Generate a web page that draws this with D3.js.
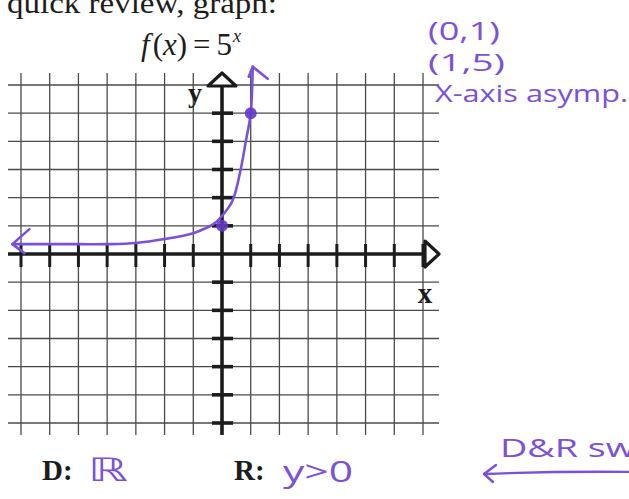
<!DOCTYPE html>
<html>
<head>
<meta charset="utf-8">
<script src="https://cdn.jsdelivr.net/npm/d3@7"></script>
<style>
  html, body { margin: 0; padding: 0; background: #fff; }
  svg { display: block; }
</style>
</head>
<body>
<div id="chart"></div>
<script>
// Grid positions (integer units on each axis)
const xGrid = [-7, -6, -5, -4, -3, -2, -1, 0, 1, 2, 3, 4, 5, 6, 7];
const yGrid = [-6, -5, -4, -3, -2, -1, 0, 1, 2, 3, 4, 5, 6];

// Sketched curve of f(x) = 5^x, as drawn on the grid
const curveX = [-7.3, -6, -5, -4, -3, -2, -1, -0.6, -0.3, 0, 0.37, 0.63, 0.83, 1, 1.07];
const curveY = [0.35, 0.35, 0.35, 0.35, 0.39, 0.53, 0.74, 0.9, 1.06, 1.35, 1.9, 2.9, 4.0, 5, 6.65];

// Marked points
const pointX = [0, 1];
const pointY = [1, 5];

// Text on the sheet
const heading = "quick review, graph:";
const notes = ["(0,1)", "(1,5)", "X-axis asymp."];
const domainText = "ℝ";
const rangeText = "y>0";
const sideNote = "D&R sw";

const W = 629, H = 499;
const ink = "#1c1c1c";
const gridInk = "#4a4a4a";
const pen = "#7b50dc";
const penDark = "#6438c8";
const serif = "'Liberation Serif', 'Times New Roman', serif";
const hand = "'Open Sans', 'Noto Sans', sans-serif";

const svg = d3.select("#chart").append("svg")
  .attr("width", W).attr("height", H)
  .style("background", "#fff");

const x = d3.scaleLinear().domain([-7, 7]).range([21, 423]);
const y = d3.scaleLinear().domain([-6, 6]).range([423, 85]);

// Grid lines overhang the outermost cells a little, like printed graph paper
const gx0 = x(-7) - 13, gx1 = x(7) + 16;
const gy0 = y(6) - 12, gy1 = y(-6) + 12;

const grid = svg.append("g");
grid.selectAll("line.h").data(yGrid.filter(d => d !== 0)).join("line")
  .attr("x1", gx0).attr("x2", gx1)
  .attr("y1", d => y(d)).attr("y2", d => y(d))
  .attr("stroke", gridInk).attr("stroke-width", 1.3);
grid.selectAll("line.v").data(xGrid.filter(d => d !== 0)).join("line")
  .attr("y1", gy0).attr("y2", gy1)
  .attr("x1", d => x(d)).attr("x2", d => x(d))
  .attr("stroke", gridInk).attr("stroke-width", 1.3);

// Axes
const axes = svg.append("g").attr("stroke", ink).attr("fill", "#fff")
  .attr("stroke-linejoin", "round").attr("stroke-linecap", "butt");
axes.append("line")
  .attr("x1", gx0).attr("x2", x(7) + 2)
  .attr("y1", y(0)).attr("y2", y(0)).attr("stroke-width", 3.6);
axes.append("line")
  .attr("x1", x(0)).attr("x2", x(0))
  .attr("y1", y(6)).attr("y2", gy1).attr("stroke-width", 3.6);

// x-axis ticks
axes.selectAll("line.xt").data(xGrid.filter(d => d !== 0)).join("line")
  .attr("x1", d => x(d)).attr("x2", d => x(d))
  .attr("y1", y(0) - 10).attr("y2", y(0) + 13).attr("stroke-width", 3);
// y-axis ticks
axes.selectAll("line.yt").data(yGrid.filter(d => d !== 0)).join("line")
  .attr("y1", d => y(d)).attr("y2", d => y(d))
  .attr("x1", x(0) - 10).attr("x2", x(0) + 11).attr("stroke-width", 3.6);

// Arrowheads on the positive ends
axes.append("path")
  .attr("d", `M${x(7) + 2},${y(0) - 13} L${x(7) + 16},${y(0)} L${x(7) + 2},${y(0) + 13} Z`)
  .attr("stroke-width", 3.2);
axes.append("path")
  .attr("d", `M${x(0) - 14},${y(6) + 1} L${x(0)},${y(6) - 12} L${x(0) + 14},${y(6) + 1} Z`)
  .attr("stroke-width", 3.2);

// Axis letters
svg.append("text").text("y")
  .attr("x", x(0) - 27).attr("y", 102).attr("text-anchor", "middle")
  .attr("font-family", serif).attr("font-weight", "bold").attr("font-size", 28).attr("fill", ink);
svg.append("text").text("x")
  .attr("x", x(7) + 2).attr("y", 303).attr("text-anchor", "middle")
  .attr("font-family", serif).attr("font-weight", "bold").attr("font-size", 29).attr("fill", ink);

// Heading and function
svg.append("text").text(heading)
  .attr("x", 7).attr("y", 13)
  .attr("font-family", serif).attr("font-size", 30).attr("fill", ink)
  .attr("textLength", 270).attr("lengthAdjust", "spacingAndGlyphs");

const fx = svg.append("text").attr("x", 141).attr("y", 55)
  .attr("font-family", serif).attr("font-size", 31).attr("fill", ink);
fx.append("tspan").attr("font-style", "italic").text("f");
fx.append("tspan").attr("dx", 3).text("(");
fx.append("tspan").attr("font-style", "italic").text("x");
fx.append("tspan").text(")");
fx.append("tspan").attr("dx", 6).text("=");
fx.append("tspan").attr("dx", 6).text("5");
fx.append("tspan").attr("font-style", "italic").attr("font-size", 18).attr("dy", -13).attr("dx", 1).text("x");

// Curve of the function
const pts = curveX.map((d, i) => [x(d), y(curveY[i])]);
const line = d3.line().curve(d3.curveCatmullRom.alpha(0.5));
const pg = svg.append("g").attr("fill", "none").attr("stroke", pen)
  .attr("stroke-width", 2.6).attr("stroke-linecap", "round").attr("stroke-linejoin", "round");
pg.append("path").attr("d", line(pts));

// Hand-drawn arrow tips at both ends of the curve
const [lx, ly] = pts[0];
pg.append("path").attr("d", `M${lx + 17},${ly - 15} L${lx},${ly} L${lx + 12},${ly + 9}`);
const [tx, ty] = pts[pts.length - 1];
pg.append("path").attr("d", `M${tx - 4},${ty + 10} L${tx},${ty} L${tx + 15},${ty + 12}`);

// Marked points
svg.selectAll("circle.pt").data(pointX).join("circle")
  .attr("cx", d => x(d)).attr("cy", (d, i) => y(pointY[i]))
  .attr("r", 6).attr("fill", penDark).attr("fill-opacity", 0.9);

// Handwritten notes
const noteLayout = [
  { x: 428, y: 40, size: 25, len: 72 },
  { x: 428, y: 71, size: 24, len: 77 },
  { x: 435, y: 102, size: 24, len: 193 }
];
svg.selectAll("text.note").data(notes).join("text")
  .attr("x", (d, i) => noteLayout[i].x).attr("y", (d, i) => noteLayout[i].y)
  .attr("font-size", (d, i) => noteLayout[i].size)
  .attr("textLength", (d, i) => noteLayout[i].len).attr("lengthAdjust", "spacingAndGlyphs")
  .attr("font-family", hand).attr("font-weight", 500).attr("fill", pen).text(d => d);

// Domain and range
svg.append("text").text("D:").attr("x", 42).attr("y", 480)
  .attr("font-family", serif).attr("font-weight", "bold").attr("font-size", 29).attr("fill", ink);
svg.append("text").text("R:").attr("x", 234).attr("y", 480)
  .attr("font-family", serif).attr("font-weight", "bold").attr("font-size", 29).attr("fill", ink);
svg.append("text").text(domainText).attr("x", 88).attr("y", 481)
  .attr("font-family", "'DejaVu Sans', sans-serif").attr("font-size", 32).attr("fill", pen)
  .attr("textLength", 40).attr("lengthAdjust", "spacingAndGlyphs");
svg.append("text").text(rangeText).attr("x", 283).attr("y", 482)
  .attr("font-family", hand).attr("font-weight", 500).attr("font-size", 30).attr("fill", pen)
  .attr("textLength", 70).attr("lengthAdjust", "spacingAndGlyphs");

// Side note with its arrow
svg.append("text").text(sideNote).attr("x", 500).attr("y", 457)
  .attr("font-family", hand).attr("font-weight", 500).attr("font-size", 25).attr("fill", pen)
  .attr("textLength", 135).attr("lengthAdjust", "spacingAndGlyphs");
const ag = svg.append("g").attr("fill", "none").attr("stroke", pen)
  .attr("stroke-width", 2.4).attr("stroke-linecap", "round").attr("stroke-linejoin", "round");
ag.append("path").attr("d", "M484,474 Q560,471 640,472");
ag.append("path").attr("d", "M496,465 L484,474 L493,482");
</script>
</body>
</html>
